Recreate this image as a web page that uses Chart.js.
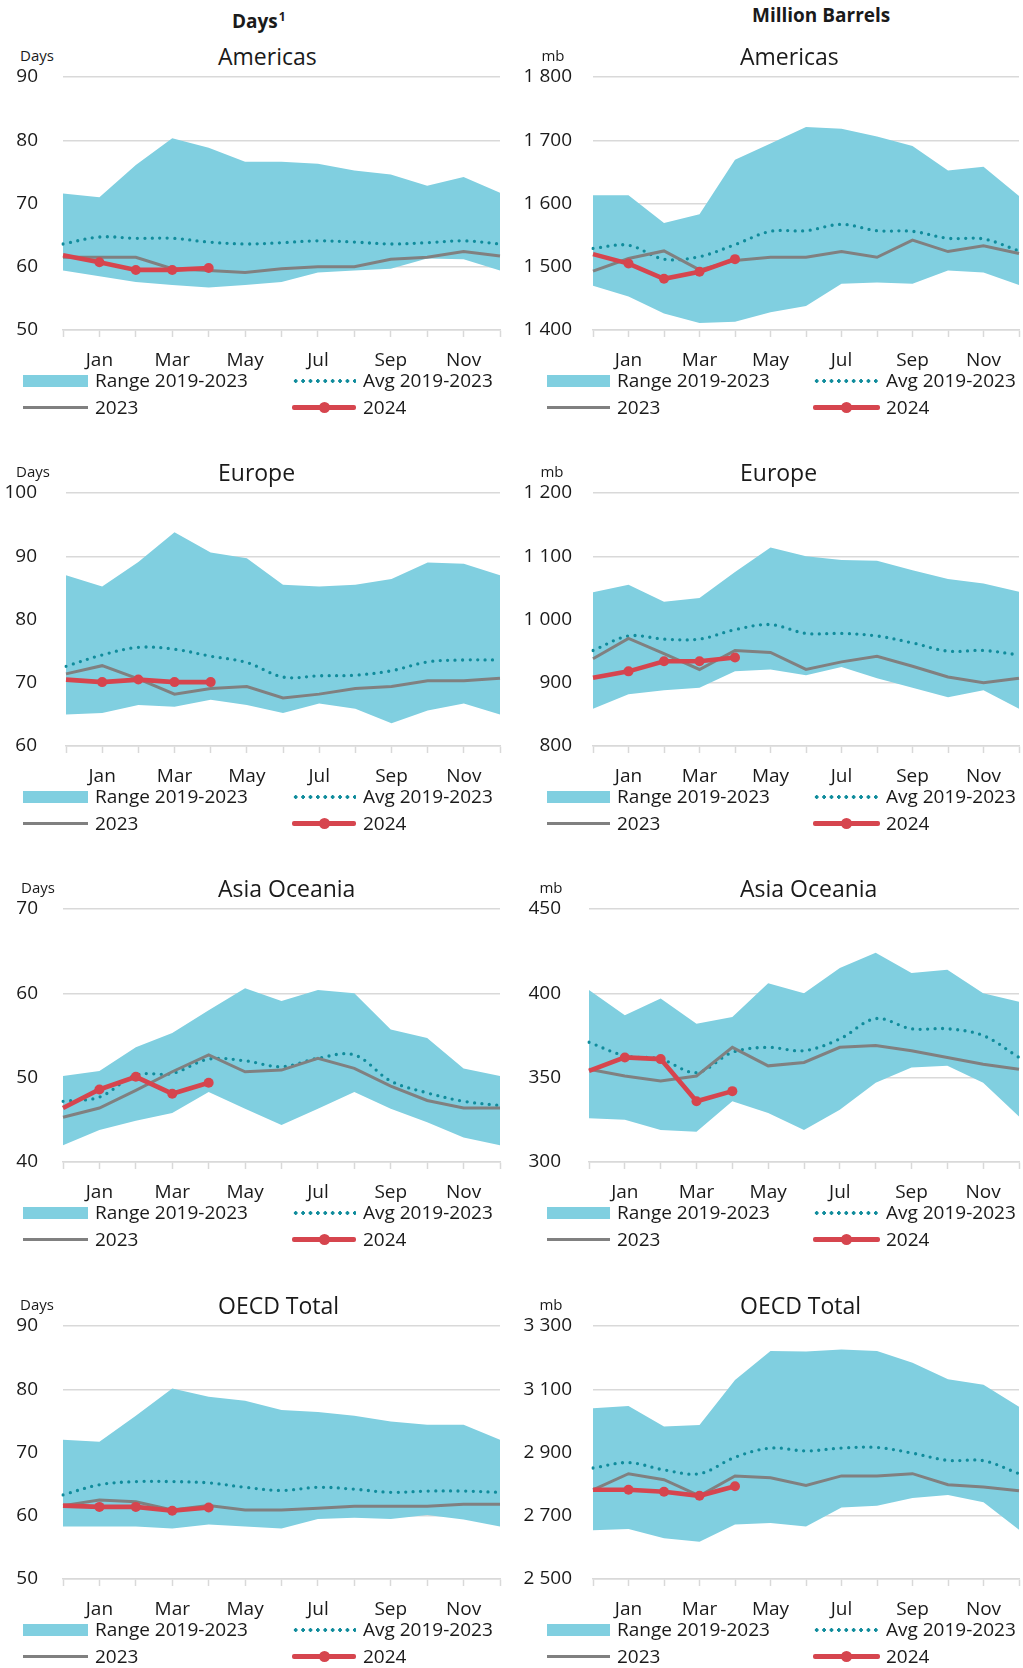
<!DOCTYPE html>
<html>
<head>
<meta charset="utf-8">
<script src="https://cdn.jsdelivr.net/npm/chart.js@4.4.1/dist/chart.umd.min.js"></script>
<style>
  html, body { margin: 0; padding: 0; background: #fff; }
  body {
    width: 1023px; height: 1668px; overflow: hidden; position: relative;
    font-family: 'Open Sans', sans-serif; color: #1a1a1a;
  }
  .heading { position: absolute; font-weight: 700; font-size: 19px; line-height: 24px; white-space: nowrap; }
  .heading sup { font-size: 12px; vertical-align: top; position: relative; top: -4px; margin-left: 1px; }
  .panel { position: absolute; height: 416px; }
  .title { position: absolute; top: 42px; font-size: 23px; line-height: 28px; white-space: nowrap; }
  .unit { position: absolute; top: 46px; font-size: 15px; line-height: 18px; transform: translateX(-50%); }
  .panel canvas { position: absolute; left: 0; top: 63px; }
  .lg { position: absolute; font-size: 19px; line-height: 24px; white-space: nowrap; }
  .sw { position: absolute; }
  .sw-range { height: 12px; background: #80cfe0; }
  .sw-avg { height: 4px; background: radial-gradient(circle, #108c9c 1.6px, transparent 2px) 0 0 / 7.4px 4px repeat-x; }
  .sw-2023 { height: 3px; background: #808080; }
  .sw-2024 { height: 5px; background: #d6454e; border-radius: 2px; }
  .sw-2024::after {
    content: ''; position: absolute; left: 50%; top: 50%; width: 11px; height: 11px;
    margin: -5.5px 0 0 -5.5px; border-radius: 50%; background: #d6454e;
  }
</style>
</head>
<body>

<div class="heading" style="left:232px; top:9px;">Days<sup>1</sup></div>
<div class="heading" style="left:752px; top:3px;">Million Barrels</div>

<div id="panels"></div>

<script>
// Months: Dec of the previous year, then Jan..Dec
const MONTHS = ['Dec', 'Jan', 'Feb', 'Mar', 'Apr', 'May', 'Jun', 'Jul', 'Aug', 'Sep', 'Oct', 'Nov', 'Dec'];
const SERIES = ['Range 2019-2023', 'Avg 2019-2023', '2023', '2024'];

// ── Days of forward demand ──
const amDaysMax  = [71.6, 71.0, 76.1, 80.3, 78.8, 76.6, 76.6, 76.3, 75.2, 74.6, 72.8, 74.2, 71.7];
const amDaysMin  = [59.4, 58.5, 57.6, 57.1, 56.7, 57.1, 57.6, 59.1, 59.4, 59.7, 61.3, 61.2, 59.4];
const amDaysAvg  = [63.6, 64.7, 64.5, 64.5, 63.9, 63.6, 63.8, 64.1, 63.9, 63.6, 63.8, 64.1, 63.6];
const amDays2023 = [61.5, 61.5, 61.5, 59.7, 59.4, 59.1, 59.7, 60.0, 60.0, 61.2, 61.5, 62.4, 61.7];
const amDays2024 = [61.8, 60.7, 59.5, 59.5, 59.8];

const euDaysMax  = [87.0, 85.2, 89.1, 93.8, 90.6, 89.7, 85.5, 85.2, 85.5, 86.4, 89.0, 88.8, 87.0];
const euDaysMin  = [65.0, 65.2, 66.5, 66.2, 67.3, 66.5, 65.2, 66.7, 65.9, 63.6, 65.6, 66.7, 65.0];
const euDaysAvg  = [72.6, 74.4, 75.6, 75.3, 74.2, 73.2, 70.9, 71.1, 71.2, 71.9, 73.3, 73.6, 73.6];
const euDays2023 = [71.4, 72.7, 70.6, 68.2, 69.1, 69.4, 67.6, 68.2, 69.1, 69.4, 70.3, 70.3, 70.7];
const euDays2024 = [70.5, 70.1, 70.5, 70.1, 70.1];

const asDaysMax  = [50.2, 50.8, 53.6, 55.3, 58.0, 60.6, 59.1, 60.4, 60.0, 55.7, 54.7, 51.1, 50.2];
const asDaysMin  = [42.0, 43.8, 44.9, 45.8, 48.3, 46.3, 44.4, 46.3, 48.3, 46.3, 44.7, 42.9, 42.0];
const asDaysAvg  = [47.2, 47.7, 50.3, 50.5, 52.2, 52.0, 51.3, 52.3, 52.7, 49.6, 48.2, 47.2, 46.7];
const asDays2023 = [45.3, 46.4, 48.5, 50.7, 52.7, 50.7, 50.9, 52.3, 51.1, 49.0, 47.3, 46.4, 46.4];
const asDays2024 = [46.4, 48.6, 50.1, 48.1, 49.4];

const oeDaysMax  = [72.0, 71.7, 75.8, 80.1, 78.8, 78.2, 76.7, 76.4, 75.8, 74.9, 74.4, 74.4, 72.0];
const oeDaysMin  = [58.3, 58.3, 58.3, 58.0, 58.6, 58.3, 58.0, 59.5, 59.7, 59.5, 60.1, 59.4, 58.3];
const oeDaysAvg  = [63.3, 64.9, 65.4, 65.4, 65.2, 64.5, 64.0, 64.5, 64.2, 63.7, 63.9, 63.9, 63.7];
const oeDays2023 = [61.6, 62.5, 62.2, 60.9, 61.6, 60.9, 60.9, 61.2, 61.5, 61.5, 61.5, 61.8, 61.8];
const oeDays2024 = [61.6, 61.4, 61.4, 60.8, 61.3];

// ── Million barrels ──
const amMbMax  = [1613, 1613, 1569, 1583, 1669, 1695, 1721, 1718, 1706, 1691, 1652, 1658, 1612];
const amMbMin  = [1470, 1453, 1426, 1411, 1413, 1428, 1438, 1473, 1475, 1473, 1494, 1491, 1471];
const amMbAvg  = [1529, 1534, 1512, 1516, 1535, 1556, 1557, 1567, 1557, 1556, 1545, 1544, 1525];
const amMb2023 = [1493, 1513, 1525, 1495, 1510, 1515, 1515, 1524, 1515, 1542, 1524, 1533, 1521];
const amMb2024 = [1520, 1505, 1481, 1492, 1512];

const euMbMax  = [1043, 1055, 1028, 1034, 1075, 1114, 1100, 1094, 1093, 1078, 1064, 1057, 1044];
const euMbMin  = [859, 882, 888, 892, 918, 921, 912, 925, 907, 892, 877, 888, 859];
const euMbAvg  = [951, 974, 969, 969, 984, 992, 978, 978, 974, 963, 950, 951, 944];
const euMb2023 = [938, 970, 946, 921, 951, 948, 921, 933, 942, 926, 909, 900, 907];
const euMb2024 = [908, 918, 934, 934, 940];

const asMbMax  = [402, 387, 397, 382, 386, 406, 400, 415, 424, 412, 414, 400, 395];
const asMbMin  = [326, 325, 319, 318, 336, 329, 319, 331, 347, 356, 357, 347, 327];
const asMbAvg  = [371, 363, 361, 353, 365, 368, 366, 373, 385, 379, 379, 375, 362];
const asMb2023 = [355, 351, 348, 351, 368, 357, 359, 368, 369, 366, 362, 358, 355];
const asMb2024 = [354, 362, 361, 336, 342];

const oeMbMax  = [3040, 3047, 2982, 2987, 3129, 3221, 3219, 3226, 3221, 3184, 3132, 3114, 3045];
const oeMbMin  = [2654, 2658, 2629, 2618, 2672, 2677, 2666, 2726, 2732, 2756, 2766, 2743, 2656];
const oeMbAvg  = [2851, 2868, 2845, 2833, 2885, 2914, 2905, 2914, 2916, 2898, 2875, 2874, 2833];
const oeMb2023 = [2782, 2833, 2814, 2763, 2826, 2820, 2796, 2826, 2826, 2833, 2798, 2791, 2779];
const oeMb2024 = [2782, 2782, 2776, 2763, 2793];

const CYAN = '#80cfe0';
const TEAL = '#108c9c';
const GREY = '#808080';
const RED  = '#d6454e';
const GRID = '#d9d9d9';
const TEXT = '#1a1a1a';
const FONT = "'Open Sans', sans-serif";

const ROW_TOP = [0, 416, 832, 1249];
const PLOT_H = 253;

// side-specific geometry
const SIDE = {
  left:  { x: 0,   width: 512, padRight: 9, titleX: 218, lg: [23, 95, 292, 363], swW: [65, 64] },
  right: { x: 511, width: 520, padRight: 6, titleX: 229, lg: [36, 106, 302, 375], swW: [63, 67] },
};

const panels = [
  { id: 'amDays', side: 'left',  row: 0, title: 'Americas',     unit: 'Days', unitX: 37, axisW: 63, tickPad: 25, yMin: 50,   yMax: 90,   step: 10,  hi: amDaysMax, lo: amDaysMin, avg: amDaysAvg, y23: amDays2023, y24: amDays2024 },
  { id: 'amMb',   side: 'right', row: 0, title: 'Americas',     unit: 'mb',   unitX: 42, axisW: 82, tickPad: 21, yMin: 1400, yMax: 1800, step: 100, hi: amMbMax,   lo: amMbMin,   avg: amMbAvg,   y23: amMb2023,   y24: amMb2024 },
  { id: 'euDays', side: 'left',  row: 1, title: 'Europe',       unit: 'Days', unitX: 33, axisW: 66, tickPad: 29, yMin: 60,   yMax: 100,  step: 10,  hi: euDaysMax, lo: euDaysMin, avg: euDaysAvg, y23: euDays2023, y24: euDays2024 },
  { id: 'euMb',   side: 'right', row: 1, title: 'Europe',       unit: 'mb',   unitX: 41, axisW: 82, tickPad: 21, yMin: 800,  yMax: 1200, step: 100, hi: euMbMax,   lo: euMbMin,   avg: euMbAvg,   y23: euMb2023,   y24: euMb2024 },
  { id: 'asDays', side: 'left',  row: 2, title: 'Asia Oceania', unit: 'Days', unitX: 38, axisW: 63, tickPad: 25, yMin: 40,   yMax: 70,   step: 10,  hi: asDaysMax, lo: asDaysMin, avg: asDaysAvg, y23: asDays2023, y24: asDays2024 },
  { id: 'asMb',   side: 'right', row: 2, title: 'Asia Oceania', unit: 'mb',   unitX: 40, axisW: 78, tickPad: 28, yMin: 300,  yMax: 450,  step: 50,  hi: asMbMax,   lo: asMbMin,   avg: asMbAvg,   y23: asMb2023,   y24: asMb2024 },
  { id: 'oeDays', side: 'left',  row: 3, title: 'OECD Total',   unit: 'Days', unitX: 37, axisW: 63, tickPad: 25, yMin: 50,   yMax: 90,   step: 10,  hi: oeDaysMax, lo: oeDaysMin, avg: oeDaysAvg, y23: oeDays2023, y24: oeDays2024 },
  { id: 'oeMb',   side: 'right', row: 3, title: 'OECD Total',   unit: 'mb',   unitX: 40, axisW: 82, tickPad: 21, yMin: 2500, yMax: 3300, step: 200, hi: oeMbMax,   lo: oeMbMin,   avg: oeMbAvg,   y23: oeMb2023,   y24: oeMb2024 },
];

const fmt = v => String(v).replace(/\B(?=(\d{3})+(?!\d))/g, ' ');

function legendHTML(s) {
  const [x1, t1, x2, t2] = s.lg;
  return `
    <div class="sw sw-range" style="left:${x1}px; top:375px; width:${s.swW[0]}px;"></div>
    <div class="lg" style="left:${t1}px; top:368px;">${SERIES[0]}</div>
    <div class="sw sw-avg" style="left:${x2}px; top:379px; width:${s.swW[1]}px;"></div>
    <div class="lg" style="left:${t2}px; top:368px;">${SERIES[1]}</div>
    <div class="sw sw-2023" style="left:${x1}px; top:406px; width:${s.swW[0]}px;"></div>
    <div class="lg" style="left:${t1}px; top:395px;">${SERIES[2]}</div>
    <div class="sw sw-2024" style="left:${x2}px; top:405px; width:${s.swW[1]}px;"></div>
    <div class="lg" style="left:${t2}px; top:395px;">${SERIES[3]}</div>
  `;
}

const host = document.getElementById('panels');
panels.forEach(p => {
  const s = SIDE[p.side];
  const el = document.createElement('div');
  el.className = 'panel';
  el.style.left = s.x + 'px';
  el.style.top = ROW_TOP[p.row] + 'px';
  el.style.width = s.width + 'px';
  el.innerHTML = `
    <div class="title" style="left:${s.titleX}px;">${p.title}</div>
    <div class="unit" style="left:${p.unitX}px;">${p.unit}</div>
    <canvas id="c-${p.id}" width="${s.width}" height="${14 + PLOT_H + 40}"></canvas>
    ${legendHTML(s)}
  `;
  host.appendChild(el);
});

Chart.defaults.font.family = FONT;
Chart.defaults.color = TEXT;

panels.forEach(p => {
  const s = SIDE[p.side];
  new Chart(document.getElementById('c-' + p.id), {
    type: 'line',
    data: {
      labels: MONTHS,
      datasets: [
        {
          label: SERIES[3], data: p.y24, order: 1,
          borderColor: RED, backgroundColor: RED, borderWidth: 4.6,
          pointRadius: p.y24.map((v, i) => (i === 0 ? 0 : 5)),
          pointBorderWidth: 0, pointBackgroundColor: RED, tension: 0,
        },
        {
          label: SERIES[2], data: p.y23, order: 2,
          borderColor: GREY, borderWidth: 3, pointRadius: 0, tension: 0,
        },
        {
          label: SERIES[1], data: p.avg, order: 3,
          borderColor: TEAL, borderWidth: 3.3, borderDash: [0, 7.5], borderCapStyle: 'round',
          pointRadius: 0, tension: 0.35,
        },
        {
          label: SERIES[0], data: p.hi, order: 4, fill: '+1',
          backgroundColor: CYAN, borderColor: 'rgba(0,0,0,0)', borderWidth: 0, pointRadius: 0, tension: 0,
        },
        {
          label: SERIES[0] + ' low', data: p.lo, order: 5, fill: false,
          borderColor: 'rgba(0,0,0,0)', borderWidth: 0, pointRadius: 0, tension: 0,
        },
      ],
    },
    options: {
      responsive: false, animation: false, devicePixelRatio: 1, events: [],
      layout: { padding: { top: 14, right: s.padRight, left: 0, bottom: 0 } },
      plugins: { legend: { display: false }, tooltip: { enabled: false } },
      scales: {
        x: {
          grid: { drawOnChartArea: false, drawTicks: true, tickLength: 7, tickWidth: 1.5, tickColor: GRID },
          border: { display: true, color: GRID, width: 1.5 },
          ticks: {
            autoSkip: false, maxRotation: 0, padding: 12, color: TEXT,
            font: { family: FONT, size: 19 },
            callback: (v, i) => (i % 2 === 1 ? MONTHS[i] : ''),
          },
          afterFit: sc => { sc.height = 40; },
        },
        y: {
          min: p.yMin, max: p.yMax,
          grid: { color: GRID, lineWidth: 1.5, drawTicks: false },
          border: { display: false },
          ticks: {
            stepSize: p.step, padding: p.tickPad, color: TEXT,
            font: { family: FONT, size: 19 },
            callback: v => fmt(v),
          },
          // fixed axis width; drop the tick padding Chart.js adds above/below
          afterFit: sc => { sc.width = p.axisW; sc.paddingTop = 0; sc.paddingBottom = 0; },
        },
      },
    },
  });
});
</script>
</body>
</html>
